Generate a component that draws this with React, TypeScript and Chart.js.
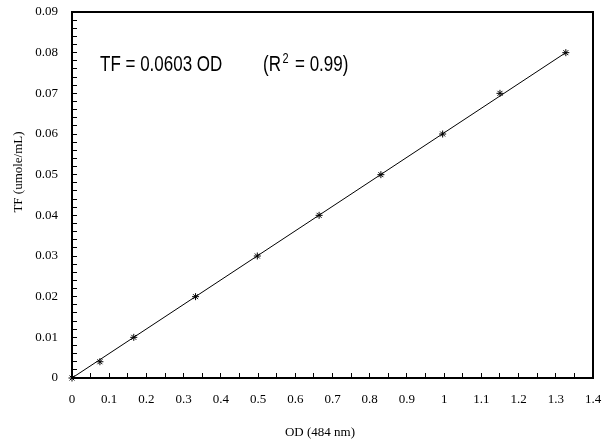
import React, { useEffect, useRef } from 'react';
import { Chart, registerables } from 'chart.js';

Chart.register(...registerables);

// ---- data ----
const odValues = [0, 0.075, 0.166, 0.332, 0.498, 0.664, 0.83, 0.996, 1.15, 1.327];
const tfValues = [0, 0.004, 0.01, 0.02, 0.03, 0.04, 0.05, 0.06, 0.07, 0.08];
const fitSlope = 0.0603;
const fitRange = [0, 1.327];
const xTickLabels = ['0', '0.1', '0.2', '0.3', '0.4', '0.5', '0.6', '0.7', '0.8', '0.9', '1', '1.1', '1.2', '1.3', '1.4'];
const yTickLabels = ['0', '0.01', '0.02', '0.03', '0.04', '0.05', '0.06', '0.07', '0.08', '0.09'];
const xTitle = 'OD (484 nm)';
const yTitle = 'TF (umole/mL)';
const equationText = 'TF = 0.0603 OD';
const rSquaredParts = ['(R', '2', '= 0.99)'];

const SERIF = '"Liberation Serif", "Times New Roman", serif';
const SANS = '"Liberation Sans", Arial, sans-serif';

const decorPlugin = {
  id: 'decor',
  afterDraw(chart: any) {
    const { ctx, chartArea } = chart;
    ctx.save();
    // plot frame
    ctx.strokeStyle = '#000';
    ctx.lineWidth = 2;
    ctx.strokeRect(chartArea.left, chartArea.top, chartArea.right - chartArea.left, chartArea.bottom - chartArea.top);

    // axis titles
    ctx.fillStyle = '#000';
    ctx.font = `13px ${SERIF}`;
    ctx.textAlign = 'center';
    ctx.textBaseline = 'middle';
    ctx.fillText(xTitle, 320, 433);
    ctx.save();
    ctx.translate(19, 172);
    ctx.rotate(-Math.PI / 2);
    ctx.fillText(yTitle, 0, 0);
    ctx.restore();

    // equation annotation (tall glyphs as in reference)
    ctx.textAlign = 'left';
    ctx.textBaseline = 'alphabetic';
    ctx.save();
    ctx.translate(0, 70.5);
    ctx.scale(1, 1.27);
    ctx.font = `17px ${SANS}`;
    ctx.fillText(equationText, 100, 0);
    ctx.fillText(rSquaredParts[0], 263, 0);
    ctx.font = `11px ${SANS}`;
    ctx.fillText(rSquaredParts[1], 282.5, -6);
    ctx.font = `17px ${SANS}`;
    ctx.fillText(rSquaredParts[2], 295, 0);
    ctx.restore();
    ctx.restore();
  },
};

export default function App() {
  const canvasRef = useRef<HTMLCanvasElement | null>(null);

  useEffect(() => {
    if (!canvasRef.current) return;
    const points = odValues.map((x, i) => ({ x, y: tfValues[i] }));
    const fitLine = fitRange.map((x) => ({ x, y: fitSlope * x }));

    const chart = new Chart(canvasRef.current, {
      type: 'scatter',
      data: {
        datasets: [
          {
            label: 'fit',
            data: fitLine,
            showLine: true,
            borderColor: '#000',
            borderWidth: 1,
            pointRadius: 0,
            clip: false,
          } as any,
          {
            label: 'TF',
            data: points,
            showLine: false,
            pointStyle: 'star',
            pointRadius: 3.5,
            borderColor: '#000',
            backgroundColor: '#000',
            pointBorderWidth: 1,
            clip: false,
          } as any,
        ],
      },
      options: {
        animation: false,
        responsive: true,
        maintainAspectRatio: false,
        layout: { padding: { top: 12, right: 9, left: 0, bottom: 0 } },
        plugins: {
          legend: { display: false },
          tooltip: { enabled: false },
        },
        scales: {
          x: {
            type: 'linear',
            min: 0,
            max: 1.4,
            border: { display: false },
            grid: {
              display: true,
              drawOnChartArea: false,
              drawTicks: true,
              tickLength: -5,
              color: '#000',
              lineWidth: 1,
            },
            ticks: {
              stepSize: 0.05,
              autoSkip: false,
              maxRotation: 0,
              padding: 19,
              color: '#000',
              font: { family: SERIF, size: 13 },
              callback: (v: any) => {
                const k = Math.round(Number(v) * 100);
                return k % 10 === 0 ? xTickLabels[k / 10] : '';
              },
            },
            afterFit: (scale: any) => {
              scale.height = 64;
              scale.paddingLeft = 0;
              scale.paddingRight = 0;
            },
          },
          y: {
            type: 'linear',
            min: 0,
            max: 0.09,
            border: { display: false },
            grid: {
              display: true,
              drawOnChartArea: false,
              drawTicks: true,
              tickLength: -5,
              color: '#000',
              lineWidth: 1,
            },
            ticks: {
              stepSize: 0.002,
              autoSkip: false,
              padding: 19,
              color: '#000',
              font: { family: SERIF, size: 13 },
              callback: (v: any) => {
                const k = Math.round(Number(v) * 1000);
                return k % 10 === 0 ? yTickLabels[k / 10] : '';
              },
            },
            afterFit: (scale: any) => {
              scale.width = 72;
              scale.paddingTop = 0;
              scale.paddingBottom = 0;
            },
          },
        },
      },
      plugins: [decorPlugin],
    });
    return () => chart.destroy();
  }, []);

  return (
    <div
      style={{
        position: 'fixed',
        left: 0,
        top: 0,
        width: 602,
        height: 442,
        overflow: 'hidden',
        background: '#fff',
      }}
    >
      <canvas ref={canvasRef} style={{ display: 'block' }} />
    </div>
  );
}
